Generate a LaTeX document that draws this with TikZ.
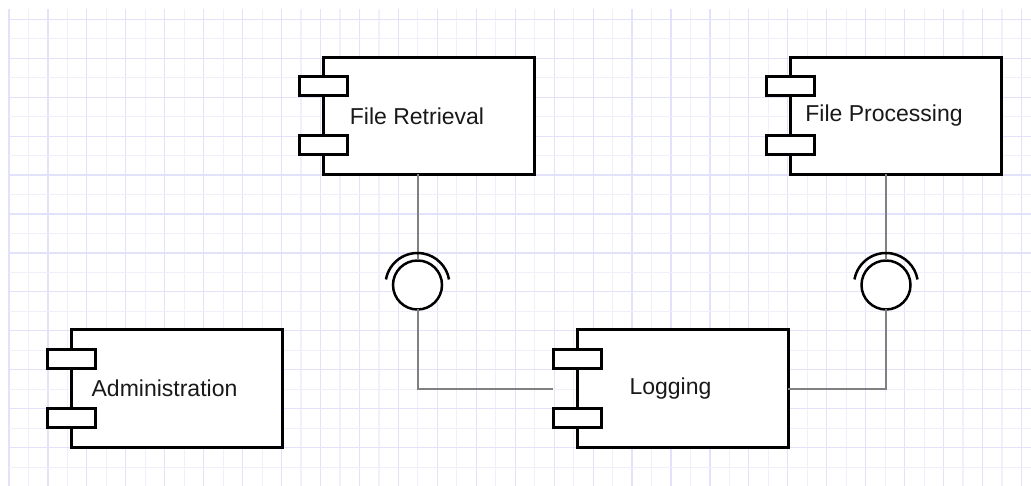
\documentclass[tikz,border=0pt]{standalone}
\usepackage{fontspec}
\setmainfont{Liberation Sans}
\usetikzlibrary{positioning}
\definecolor{gridmajor}{RGB}{226,226,250}
\definecolor{gridminor}{RGB}{240,240,252}
\definecolor{wiregray}{RGB}{128,128,128}
\tikzset{
  body/.style={draw,line width=3pt,fill=white,minimum width=211pt,minimum height=117pt,inner sep=0pt,outer sep=0pt},
  tab/.style={draw,line width=3pt,fill=white,minimum width=48pt,minimum height=19pt,inner sep=0pt,outer sep=0pt},
  compname/.style={font=\fontsize{23}{27}\selectfont,text=black!90,inner sep=0pt},
  ball/.style={draw,circle,line width=2.5pt,fill=white,minimum size=49pt,inner sep=0pt,outer sep=0pt},
  socket/.style={line width=2.5pt},
  wire/.style={draw=wiregray,line width=2pt}
}
\begin{document}
\begin{tikzpicture}[x=1pt,y=-1pt]
\useasboundingbox[fill=white] (0,0) rectangle (1031,486);
% background grid
\foreach \k in {0,...,26}
  \draw[gridmajor,line width=1.2pt] ({9+38.94*\k},9) -- ({9+38.94*\k},486);
\foreach \k in {0,...,25}
  \draw[gridminor,line width=1.2pt] ({28.47+38.94*\k},9) -- ({28.47+38.94*\k},486);
\foreach \k in {0,...,11}{
  \draw[gridmajor,line width=1.2pt] (9,{19.3+38.94*\k}) -- (1031,{19.3+38.94*\k});
  \draw[gridminor,line width=1.2pt] (9,{38.77+38.94*\k}) -- (1031,{38.77+38.94*\k});
}
% components
\node[body] (ret) at (429,116) {};
\node[tab] (rettop) at ([yshift=29.5pt]ret.west) {};
\node[tab] (retbot) at ([yshift=-29.5pt]ret.west) {};
\node[compname] (retname) at ([xshift=-12pt]ret.center) {File Retrieval};
\node[body] (proc) at (896,116) {};
\node[tab] (proctop) at ([yshift=29.5pt]proc.west) {};
\node[tab] (procbot) at ([yshift=-29.5pt]proc.west) {};
\node[compname] (procname) at ([xshift=-12pt]proc.center) {File Processing};
\node[body] (adm) at (176.5,388.5) {};
\node[tab] (admtop) at ([yshift=29.5pt]adm.west) {};
\node[tab] (admbot) at ([yshift=-29.5pt]adm.west) {};
\node[compname] (admname) at ([xshift=-12pt]adm.center) {Administration};
\node[body] (log) at (682.5,388.5) {};
\node[tab] (logtop) at ([yshift=29.5pt]log.west) {};
\node[tab] (logbot) at ([yshift=-29.5pt]log.west) {};
\node[compname] (logname) at ([xshift=-12pt]log.center) {Logging};
\coordinate (login) at ([xshift=-24pt]log.west);
% interfaces
\node[ball] (ballret) at (417.5,285) {};
\node[ball] (ballproc) at (886,285) {};
\draw[wire] (ret.south -| ballret) -- (ballret.north);
\draw[wire] (ballret.south) |- (login);
\draw[wire] (proc.south -| ballproc) -- (ballproc.north);
\draw[wire] (log.east) -| (ballproc.south);
\draw[socket] ([shift={(-170:32)}]ballret.center) arc[start angle=-170,end angle=-10,radius=32];
\draw[socket] ([shift={(-170:32)}]ballproc.center) arc[start angle=-170,end angle=-10,radius=32];
\end{tikzpicture}
\end{document}
